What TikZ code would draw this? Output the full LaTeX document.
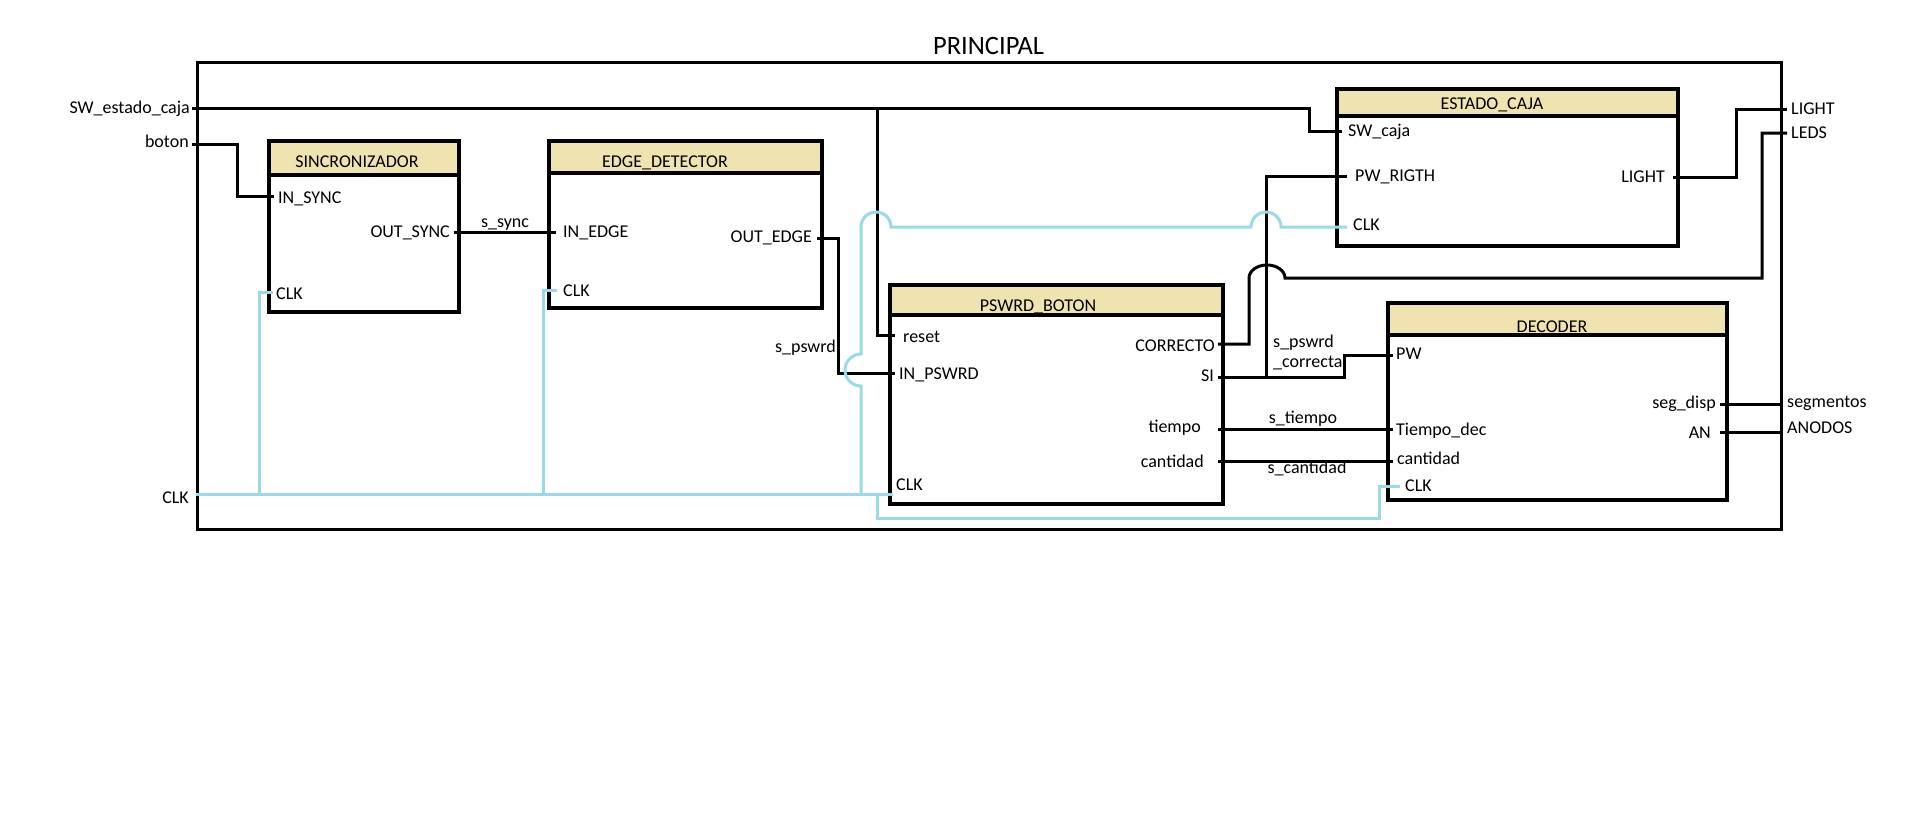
\documentclass[tikz,border=0pt]{standalone}
\usepackage{fontspec}
\setmainfont{Carlito}
\definecolor{hdrtan}{HTML}{EFE4B0}
\definecolor{clkblue}{HTML}{99D9EA}
\begin{document}
\begin{tikzpicture}[x=1pt,y=-1pt, font=\fontsize{18}{20}\selectfont,
  blk/.style={draw, line width=3.5pt, fill=white, inner sep=0pt, outer sep=0pt, anchor=north west},
  hdr/.style={draw, line width=3.5pt, fill=hdrtan, inner sep=0pt, outer sep=0pt, anchor=north west},
  wire/.style={line width=3pt, black},
  clk/.style={line width=3pt, clkblue},
  lbl/.style={inner sep=0pt, anchor=base west},
  rlbl/.style={inner sep=0pt, anchor=base east},
  clbl/.style={inner sep=0pt, anchor=base},
]
\useasboundingbox (0,0) rectangle (1909,820);

% outer frame
\node[draw, line width=3pt, inner sep=0pt, anchor=north west, minimum width=1584pt, minimum height=467pt] (principal) at (196,61) {};
\node[clbl, font=\fontsize{26.5}{28}\selectfont] (title) at (988.5,54) {PRINCIPAL};

% blocks
\node[blk, minimum width=190pt, minimum height=171pt] (sinc) at (269,141) {};
\node[hdr, minimum width=190pt, minimum height=34pt] (sinch) at (269,141) {};
\node[clbl] (sinct) at (357,167) {SINCRONIZADOR};

\node[blk, minimum width=273pt, minimum height=167pt] (edge) at (549,141) {};
\node[hdr, minimum width=273pt, minimum height=32pt] (edgeh) at (549,141) {};
\node[clbl] (edget) at (665,167) {EDGE\_DETECTOR};

\node[blk, minimum width=341pt, minimum height=157pt] (ec) at (1337,89) {};
\node[hdr, minimum width=341pt, minimum height=27pt] (ech) at (1337,89) {};
\node[clbl] (ect) at (1492,109) {ESTADO\_CAJA};

\node[blk, minimum width=333pt, minimum height=219pt] (pb) at (890,285) {};
\node[hdr, minimum width=333pt, minimum height=30pt] (pbh) at (890,285) {};
\node[clbl] (pbt) at (1038,311) {PSWRD\_BOTON};

\node[blk, minimum width=339pt, minimum height=197pt] (dec) at (1388,303) {};
\node[hdr, minimum width=339pt, minimum height=32pt] (dech) at (1388,303) {};
\node[clbl] (dect) at (1552,332) {DECODER};

% ports
\coordinate (sinc-in) at (274,196);
\coordinate (sinc-out) at (454,232);
\coordinate (sinc-clk) at (273,292);
\coordinate (edge-in) at (556,232);
\coordinate (edge-out) at (817,238);
\coordinate (edge-clk) at (557,290);
\coordinate (pb-reset) at (895,335);
\coordinate (pb-in) at (895,373);
\coordinate (pb-clk) at (893,494);
\coordinate (pb-corr) at (1218,344);
\coordinate (pb-si) at (1218,377);
\coordinate (pb-tiempo) at (1218,429);
\coordinate (pb-cant) at (1218,461);
\coordinate (ec-sw) at (1342,131);
\coordinate (ec-pw) at (1347,176);
\coordinate (ec-clk) at (1347,227);
\coordinate (ec-light) at (1673,177);
\coordinate (dec-pw) at (1393,355);
\coordinate (dec-tiempo) at (1393,429);
\coordinate (dec-cant) at (1393,461);
\coordinate (dec-clk) at (1400,486);
\coordinate (dec-seg) at (1720,404);
\coordinate (dec-an) at (1720,432);
\coordinate (x-sw) at (192,108);
\coordinate (x-boton) at (192,144);
\coordinate (x-clk) at (196,494);
\coordinate (x-light) at (1787,109);
\coordinate (x-leds) at (1787,133);
\coordinate (x-seg) at (1783,404);
\coordinate (x-an) at (1783,432);
% junctions
\coordinate (j-reset) at (877,108);
\coordinate (j-pw) at (1266,377);
\coordinate (j-clk1) at (259,494);
\coordinate (j-clk2) at (543,494);
\coordinate (j-clk3) at (861,494);
\coordinate (j-clk4) at (877,494);

% black wires
\draw[wire] (x-sw) -- (1309,108) |- (ec-sw);
\draw[wire] (j-reset) |- (pb-reset);
\draw[wire] (x-boton) -- (237,144) |- (sinc-in);
\draw[wire] (sinc-out) -- (edge-in);
\draw[wire] (edge-out) -- (838,238) |- (pb-in);
\draw[wire] (pb-corr) -- (1249,344) -- (1249,278) arc[start angle=180, end angle=360, x radius=18, y radius=13] -- (1762,278) |- (x-leds);
\draw[wire] (pb-si) -- (1344,377) |- (dec-pw);
\draw[wire] (j-pw) |- (ec-pw);
\draw[wire] (pb-tiempo) -- (dec-tiempo);
\draw[wire] (pb-cant) -- (dec-cant);
\draw[wire] (ec-light) -- (1736,177) |- (x-light);
\draw[wire] (dec-seg) -- (x-seg);
\draw[wire] (dec-an) -- (x-an);

% clock wires
\draw[clk] (x-clk) -- (pb-clk);
\draw[clk] (j-clk1) |- (sinc-clk);
\draw[clk] (j-clk2) |- (edge-clk);
\draw[clk] (j-clk3) -- (861,386) arc[start angle=90, end angle=270, radius=16] -- (861,227) arc[start angle=180, end angle=360, radius=15] -- (1251,227) arc[start angle=180, end angle=360, radius=15] -- (ec-clk);
\draw[clk] (j-clk4) |- (1379,518) |- (dec-clk);

% port labels
\node[lbl] (t-insync) at (278,203) {IN\_SYNC};
\node[rlbl] (t-outsync) at (450,237) {OUT\_SYNC};
\node[lbl] (t-sincclk) at (276,299) {CLK};
\node[lbl] (t-inedge) at (563,237) {IN\_EDGE};
\node[rlbl] (t-outedge) at (812,242) {OUT\_EDGE};
\node[lbl] (t-edgeclk) at (563,296) {CLK};
\node[clbl] (t-ssync) at (505,227) {s\_sync};
\node[lbl] (t-reset) at (903,342) {reset};
\node[lbl] (t-inpswrd) at (899,379) {IN\_PSWRD};
\node[rlbl] (t-correcto) at (1215,351) {CORRECTO};
\node[rlbl] (t-si) at (1214,381) {SI};
\node[rlbl] (t-tiempo) at (1201,432) {tiempo};
\node[rlbl] (t-cantidad) at (1204,467) {cantidad};
\node[lbl] (t-pbclk) at (896,490) {CLK};
\node[lbl] (t-swcaja) at (1348,136) {SW\_caja};
\node[lbl] (t-pwrigth) at (1355,181) {PW\_RIGTH};
\node[lbl] (t-ecclk) at (1353,230) {CLK};
\node[rlbl] (t-light) at (1665,182) {LIGHT};
\node[lbl] (t-pw) at (1396,359) {PW};
\node[lbl] (t-tdec) at (1396,435) {Tiempo\_dec};
\node[lbl] (t-dcant) at (1397,464) {cantidad};
\node[lbl] (t-dclk) at (1405,491) {CLK};
\node[rlbl] (t-seg) at (1716,408) {seg\_disp};
\node[rlbl] (t-an) at (1711,438) {AN};
% external / signal labels
\node[rlbl] (t-sw) at (190,113) {SW\_estado\_caja};
\node[rlbl] (t-boton) at (189,147) {boton};
\node[rlbl] (t-clk) at (189,503) {CLK};
\node[lbl] (t-LIGHT) at (1791,114) {LIGHT};
\node[lbl] (t-LEDS) at (1791,138) {LEDS};
\node[lbl] (t-segm) at (1787,407) {segmentos};
\node[lbl] (t-anodos) at (1787,433) {ANODOS};
\node[rlbl] (t-spswrd) at (836,352) {s\_pswrd};
\node[lbl] (t-spc1) at (1273,347) {s\_pswrd};
\node[lbl] (t-spc2) at (1273,367) {\_correcta};
\node[clbl] (t-stiempo) at (1303,423) {s\_tiempo};
\node[clbl] (t-scant) at (1307,473) {s\_cantidad};
\end{tikzpicture}
\end{document}
